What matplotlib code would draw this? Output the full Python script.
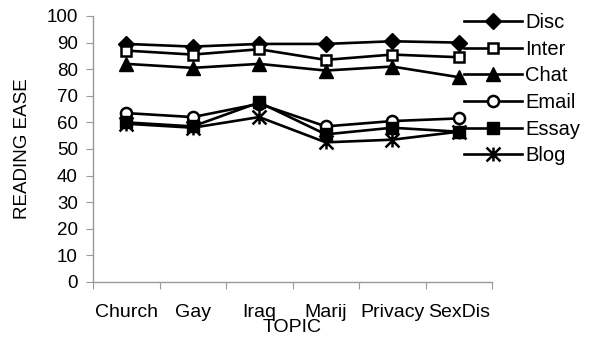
import matplotlib
matplotlib.use("Agg")
import matplotlib.pyplot as plt
from matplotlib.path import Path

# Dados
topics = ["Church", "Gay", "Iraq", "Marij", "Privacy", "SexDis"]
disc = [89.5, 88.5, 89.5, 89.5, 90.5, 90.0]
inter = [87.0, 85.5, 87.5, 83.5, 85.5, 84.5]
chat = [82.0, 80.5, 82.0, 79.5, 81.0, 77.0]
email = [63.5, 62.0, 67.0, 58.5, 60.5, 61.5]
essay = [60.0, 58.5, 67.5, 55.5, 58.0, 56.5]
blog = [59.5, 58.0, 62.0, 52.5, 53.5, 56.5]

plt.rcParams['font.family'] = ['Liberation Sans', 'DejaVu Sans']

# marcador estrela (X com traço vertical), como no Excel
star = Path([(0, -1), (0, 1), (-1, -1), (1, 1), (-1, 1), (1, -1)],
            [Path.MOVETO, Path.LINETO, Path.MOVETO, Path.LINETO, Path.MOVETO, Path.LINETO])

fig = plt.figure(figsize=(5.93, 3.49), dpi=100)
ax = fig.add_axes([93 / 593, 67 / 349, 399 / 593, 266 / 349])

x = list(range(len(topics)))
lw = 1.9
ax.plot(x, disc, color='black', lw=lw, marker='D', ms=8.5, mfc='black', label='Disc')
ax.plot(x, inter, color='black', lw=lw, marker='s', ms=7.5, mfc='white', mew=1.8, label='Inter')
ax.plot(x, chat, color='black', lw=lw, marker='^', ms=10, mfc='black', label='Chat')
ax.plot(x, email, color='black', lw=lw, marker='o', ms=8, mfc='white', mew=1.8, label='Email')
ax.plot(x, essay, color='black', lw=lw, marker='s', ms=8.5, mfc='black', label='Essay')
ax.plot(x, blog, color='black', lw=lw, marker=star, ms=10, mew=1.8, label='Blog')

ax.set_xlim(-0.5, len(topics) - 0.5)
ax.set_ylim(0, 100)
ax.set_yticks(range(0, 101, 10))
ax.tick_params(axis='y', labelsize=13.5, length=5, color='#999999', pad=6)

# ticks nas divisões das categorias, rótulos no centro
ax.set_xticks([i - 0.5 for i in range(len(topics) + 1)])
ax.set_xticklabels([])
ax.set_xticks(x, minor=True)
ax.set_xticklabels(topics, minor=True)
ax.tick_params(axis='x', which='major', length=5, color='#999999')
ax.tick_params(axis='x', which='minor', length=0, labelsize=14, pad=15.5)

for s in ['top', 'right']:
    ax.spines[s].set_visible(False)
for s in ['left', 'bottom']:
    ax.spines[s].set_color('#999999')
    ax.spines[s].set_linewidth(1)

ax.set_xlabel('TOPIC', fontsize=14, labelpad=-1)
ax.set_ylabel('READING EASE', fontsize=13.5, labelpad=11)

leg = fig.legend(loc='upper left', bbox_to_anchor=(464 / 593, 1 - 13 / 349),
                 frameon=False, fontsize=14.5, handlelength=2.9, handletextpad=0.15,
                 labelspacing=0.38, borderaxespad=0, borderpad=0)

plt.savefig("out.png", dpi=100)
